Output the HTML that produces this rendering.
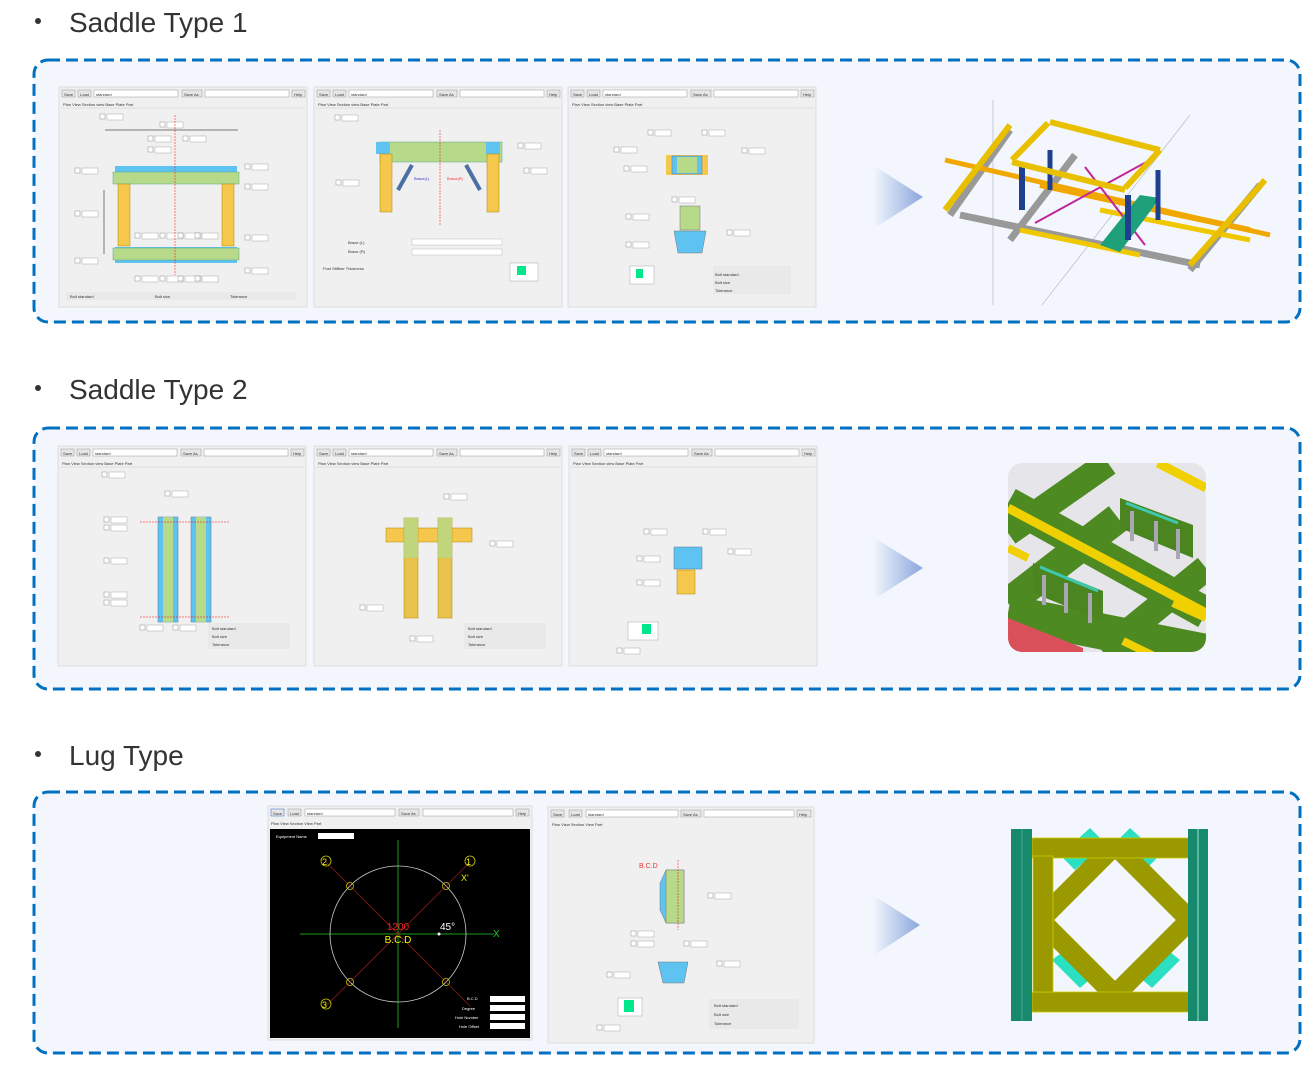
<!DOCTYPE html>
<html><head><meta charset="utf-8"><style>
html,body{margin:0;padding:0;background:#fff;}
body{width:1315px;height:1067px;overflow:hidden;font-family:"Liberation Sans",sans-serif;}
svg text{font-family:"Liberation Sans",sans-serif;}
</style></head><body>
<svg width="1315" height="1067" viewBox="0 0 1315 1067" xmlns="http://www.w3.org/2000/svg">
<defs>
<linearGradient id="ar" x1="0" x2="1" y1="0" y2="0">
<stop offset="0" stop-color="#f3f7fd"/><stop offset="1" stop-color="#8aa6dc"/></linearGradient>
<g id="tb">
<rect x="0" y="0" width="248" height="220" fill="#f0f0f0" stroke="#dcdcdc"/>
<rect x="3" y="3" width="13" height="7" fill="#e6e6e6" stroke="#999" stroke-width=".5"/>
<rect x="19" y="3" width="13" height="7" fill="#e6e6e6" stroke="#999" stroke-width=".5"/>
<rect x="35" y="3" width="84" height="7" fill="#fff" stroke="#999" stroke-width=".5"/>
<rect x="123" y="3" width="20" height="7" fill="#e6e6e6" stroke="#999" stroke-width=".5"/>
<rect x="146" y="3" width="84" height="7" fill="#fff" stroke="#999" stroke-width=".5"/>
<rect x="233" y="3" width="13" height="7" fill="#e6e6e6" stroke="#999" stroke-width=".5"/>
<text x="5" y="9" font-size="4" fill="#333">Save</text><text x="21" y="9" font-size="4" fill="#333">Load</text>
<text x="37" y="9" font-size="4" fill="#333">standard</text><text x="125" y="9" font-size="4" fill="#333">Save As</text>
<text x="235" y="9" font-size="4" fill="#333">Help</text>
<line x1="2" y1="21" x2="246" y2="21" stroke="#ccc" stroke-width=".5"/>
<text x="4" y="19" font-size="4" fill="#333">Plan View  Section view  Base Plate  Part</text>
</g>
<g id="fld"><rect x="0" y="0" width="5" height="5" fill="#fff" stroke="#777" stroke-width=".4"/><rect x="7" y="0" width="16" height="6" fill="#fff" stroke="#999" stroke-width=".4"/></g>
</defs>

<!-- Titles -->
<g fill="#333" font-size="28">
<circle cx="38" cy="21" r="3"/><text x="69" y="32">Saddle Type 1</text>
<circle cx="38" cy="388" r="3"/><text x="69" y="399">Saddle Type 2</text>
<circle cx="38" cy="754" r="3"/><text x="69" y="765">Lug Type</text>
</g>

<!-- boxes -->
<g fill="#f3f7fd" stroke="#0070c0" stroke-width="3" stroke-dasharray="12,6">
<rect x="34" y="60" width="1266" height="262" rx="14"/>
<rect x="34" y="428" width="1266" height="261" rx="14"/>
<rect x="34" y="792" width="1266" height="261" rx="14"/>
</g>

<!-- arrows -->
<polygon points="873,165 923,197 873,229" fill="url(#ar)"/>
<polygon points="873,537 923,568 873,600" fill="url(#ar)"/>
<polygon points="873,895 920,925 873,956" fill="url(#ar)"/>

<!-- Section 1 panels -->
<use href="#tb" x="59" y="87"/>
<use href="#tb" x="314" y="87"/>
<use href="#tb" x="568" y="87"/>
<g>
<!-- panel1 drawing -->
<use href="#fld" x="100" y="114"/><use href="#fld" x="160" y="122"/><use href="#fld" x="148" y="136"/><use href="#fld" x="183" y="136"/><use href="#fld" x="148" y="147"/>
<use href="#fld" x="245" y="164"/><use href="#fld" x="245" y="184"/><use href="#fld" x="245" y="235"/><use href="#fld" x="245" y="268"/>
<use href="#fld" x="75" y="168"/><use href="#fld" x="75" y="211"/><use href="#fld" x="75" y="258"/>
<use href="#fld" x="135" y="233"/><use href="#fld" x="160" y="233"/><use href="#fld" x="178" y="233"/><use href="#fld" x="195" y="233"/>
<use href="#fld" x="135" y="276"/><use href="#fld" x="160" y="276"/><use href="#fld" x="178" y="276"/><use href="#fld" x="195" y="276"/>
<rect x="115" y="166" width="122" height="14" fill="#5ec3f0"/>
<rect x="113" y="172" width="126" height="12" fill="#b6d98a" stroke="#5a8" stroke-width=".5"/>
<rect x="118" y="184" width="12" height="62" fill="#f5c74c" stroke="#a80" stroke-width=".5"/>
<rect x="222" y="184" width="12" height="62" fill="#f5c74c" stroke="#a80" stroke-width=".5"/>
<rect x="115" y="247" width="122" height="16" fill="#5ec3f0"/>
<rect x="113" y="248" width="126" height="12" fill="#b6d98a" stroke="#5a8" stroke-width=".5"/>
<line x1="175" y1="115" x2="175" y2="275" stroke="red" stroke-width=".5" stroke-dasharray="2,1"/>
<line x1="104" y1="190" x2="104" y2="254" stroke="#000" stroke-width=".5"/>
<line x1="105" y1="130" x2="238" y2="130" stroke="#000" stroke-width=".5"/>
<rect x="66" y="292" width="230" height="8" fill="#e9e9e9"/>
<text x="70" y="298" font-size="4" fill="#333">Bolt standard</text><text x="155" y="298" font-size="4" fill="#333">Bolt size</text><text x="230" y="298" font-size="4" fill="#333">Tolerance</text>
<!-- panel2 -->
<use href="#fld" x="335" y="115"/><use href="#fld" x="518" y="143"/><use href="#fld" x="524" y="168"/><use href="#fld" x="336" y="180"/>
<rect x="380" y="142" width="122" height="20" fill="#b6d98a" stroke="#5a8" stroke-width=".5"/>
<rect x="376" y="142" width="14" height="12" fill="#5ec3f0"/>
<rect x="486" y="142" width="14" height="12" fill="#5ec3f0"/>
<rect x="380" y="154" width="12" height="58" fill="#f5c74c" stroke="#a80" stroke-width=".5"/>
<rect x="487" y="154" width="12" height="58" fill="#f5c74c" stroke="#a80" stroke-width=".5"/>
<line x1="398" y1="190" x2="412" y2="165" stroke="#4a6fa5" stroke-width="4"/>
<line x1="480" y1="190" x2="466" y2="165" stroke="#4a6fa5" stroke-width="4"/>
<text x="414" y="180" font-size="4" fill="#33c">Brace(L)</text><text x="447" y="180" font-size="4" fill="#e33">Brace(R)</text>
<line x1="440" y1="130" x2="440" y2="225" stroke="red" stroke-width=".5" stroke-dasharray="2,1"/>
<text x="348" y="244" font-size="4" fill="#333">Brace (L)</text><text x="348" y="253" font-size="4" fill="#333">Brace (R)</text><text x="323" y="270" font-size="4" fill="#333">Post Stiffner Thickness</text>
<rect x="412" y="239" width="90" height="6" fill="#fff" stroke="#aaa" stroke-width=".4"/>
<rect x="412" y="249" width="90" height="6" fill="#fff" stroke="#aaa" stroke-width=".4"/>
<rect x="510" y="263" width="28" height="18" fill="#fff" stroke="#aaa" stroke-width=".5"/><rect x="517" y="266" width="9" height="9" fill="#00e68a"/>
<!-- panel3 -->
<use href="#fld" x="648" y="130"/><use href="#fld" x="702" y="130"/><use href="#fld" x="614" y="147"/><use href="#fld" x="742" y="148"/><use href="#fld" x="624" y="166"/><use href="#fld" x="672" y="197"/><use href="#fld" x="626" y="214"/><use href="#fld" x="727" y="230"/><use href="#fld" x="626" y="242"/>
<rect x="666" y="155" width="42" height="20" fill="#f5c74c"/>
<rect x="672" y="156" width="30" height="18" fill="#5ec3f0" stroke="#579" stroke-width=".5"/>
<rect x="677" y="157" width="20" height="16" fill="#b6d98a"/>
<rect x="680" y="206" width="20" height="24" fill="#b6d98a" stroke="#777" stroke-width=".5"/>
<polygon points="674,231 706,231 702,253 678,253" fill="#5ec3f0" stroke="#777" stroke-width=".5"/>
<rect x="713" y="266" width="78" height="28" fill="#e9e9e9"/>
<text x="715" y="276" font-size="4" fill="#333">Bolt standard</text><text x="715" y="284" font-size="4" fill="#333">Bolt size</text><text x="715" y="292" font-size="4" fill="#333">Tolerance</text>
<rect x="630" y="266" width="24" height="18" fill="#fff" stroke="#aaa" stroke-width=".5"/><rect x="636" y="269" width="7" height="9" fill="#00e68a"/>
</g>

<!-- 3D model section 1 -->
<g>
<line x1="993" y1="100" x2="993" y2="305" stroke="#aab" stroke-width=".6"/>
<line x1="1042" y1="305" x2="1190" y2="115" stroke="#aab" stroke-width=".6"/>
<g stroke-linecap="butt">
<line x1="950" y1="215" x2="1010" y2="130" stroke="#999" stroke-width="7"/>
<line x1="1010" y1="240" x2="1075" y2="155" stroke="#999" stroke-width="7"/>
<line x1="1190" y1="270" x2="1260" y2="185" stroke="#999" stroke-width="7"/>
<line x1="960" y1="215" x2="1200" y2="265" stroke="#999" stroke-width="7"/>
<line x1="1040" y1="185" x2="1250" y2="230" stroke="#f0a800" stroke-width="6"/>
<line x1="945" y1="160" x2="1270" y2="235" stroke="#f0a800" stroke-width="5"/>
<line x1="1020" y1="230" x2="1140" y2="255" stroke="#f0c800" stroke-width="5"/>
<line x1="1100" y1="210" x2="1250" y2="240" stroke="#f0c800" stroke-width="5"/>
<line x1="945" y1="210" x2="1010" y2="125" stroke="#e8c000" stroke-width="6"/>
<line x1="1190" y1="265" x2="1265" y2="180" stroke="#e8c000" stroke-width="6"/>
<line x1="1035" y1="223" x2="1150" y2="160" stroke="#c0259a" stroke-width="2"/>
<line x1="1085" y1="167" x2="1145" y2="245" stroke="#c0259a" stroke-width="2"/>
<polygon points="1100,245 1140,195 1160,198 1120,252" fill="#1ea07a"/>
<line x1="1022" y1="165" x2="1022" y2="210" stroke="#1f3f8f" stroke-width="6"/>
<line x1="1128" y1="195" x2="1128" y2="240" stroke="#1f3f8f" stroke-width="6"/>
<line x1="1158" y1="170" x2="1158" y2="220" stroke="#1f3f8f" stroke-width="5"/>
<line x1="1050" y1="150" x2="1050" y2="190" stroke="#1f3f8f" stroke-width="5"/>
<line x1="1012" y1="160" x2="1048" y2="123" stroke="#e8c000" stroke-width="6"/>
<line x1="1125" y1="188" x2="1160" y2="150" stroke="#e8c000" stroke-width="6"/>
<line x1="1050" y1="122" x2="1160" y2="150" stroke="#e8c000" stroke-width="6"/>
<line x1="1012" y1="162" x2="1125" y2="190" stroke="#e8c000" stroke-width="6"/>
</g>
</g>

<!-- Section 2 panels -->
<use href="#tb" x="58" y="446"/>
<use href="#tb" x="314" y="446"/>
<use href="#tb" x="569" y="446"/>
<g>
<use href="#fld" x="102" y="472"/><use href="#fld" x="165" y="491"/><use href="#fld" x="104" y="517"/><use href="#fld" x="104" y="525"/><use href="#fld" x="104" y="558"/><use href="#fld" x="104" y="592"/><use href="#fld" x="104" y="600"/><use href="#fld" x="140" y="625"/><use href="#fld" x="173" y="625"/>
<rect x="158" y="517" width="20" height="105" fill="#5ec3f0" stroke="#579" stroke-width=".5"/>
<rect x="163" y="517" width="10" height="105" fill="#b6d98a"/>
<rect x="191" y="517" width="20" height="105" fill="#5ec3f0" stroke="#579" stroke-width=".5"/>
<rect x="196" y="517" width="10" height="105" fill="#b6d98a"/>
<line x1="140" y1="522" x2="230" y2="522" stroke="red" stroke-width=".5" stroke-dasharray="2,1"/>
<line x1="140" y1="617" x2="230" y2="617" stroke="red" stroke-width=".5" stroke-dasharray="2,1"/>
<rect x="208" y="623" width="82" height="26" fill="#e9e9e9"/>
<text x="212" y="630" font-size="4" fill="#333">Bolt standard</text><text x="212" y="638" font-size="4" fill="#333">Bolt size</text><text x="212" y="646" font-size="4" fill="#333">Tolerance</text>
<use href="#fld" x="444" y="494"/><use href="#fld" x="490" y="541"/><use href="#fld" x="360" y="605"/><use href="#fld" x="410" y="636"/>
<rect x="386" y="528" width="86" height="14" fill="#f5c74c" stroke="#a80" stroke-width=".5"/>
<rect x="404" y="518" width="14" height="100" fill="#e8c24c" stroke="#a80" stroke-width=".5"/>
<rect x="438" y="518" width="14" height="100" fill="#e8c24c" stroke="#a80" stroke-width=".5"/>
<rect x="404" y="518" width="14" height="40" fill="#b6d98a" opacity=".8"/>
<rect x="438" y="518" width="14" height="40" fill="#b6d98a" opacity=".8"/>
<rect x="464" y="623" width="82" height="26" fill="#e9e9e9"/>
<text x="468" y="630" font-size="4" fill="#333">Bolt standard</text><text x="468" y="638" font-size="4" fill="#333">Bolt size</text><text x="468" y="646" font-size="4" fill="#333">Tolerance</text>
<use href="#fld" x="644" y="529"/><use href="#fld" x="703" y="529"/><use href="#fld" x="637" y="556"/><use href="#fld" x="728" y="549"/><use href="#fld" x="637" y="580"/><use href="#fld" x="617" y="648"/>
<rect x="674" y="547" width="28" height="22" fill="#5ec3f0" stroke="#579" stroke-width=".5"/>
<rect x="677" y="570" width="18" height="24" fill="#f5c74c" stroke="#a80" stroke-width=".5"/>
<rect x="628" y="622" width="30" height="18" fill="#fff" stroke="#aaa" stroke-width=".5"/><rect x="642" y="624" width="9" height="10" fill="#00e68a"/>
</g>

<!-- 3D section 2 -->
<svg x="1008" y="463" width="198" height="189">
<clipPath id="rc"><rect width="198" height="189" rx="14"/></clipPath>
<g clip-path="url(#rc)">
<rect width="198" height="189" fill="#e6e6ea"/>
<g stroke="#4e8a22" stroke-linecap="butt">
<line x1="0" y1="40" x2="198" y2="150" stroke-width="32"/>
<line x1="0" y1="150" x2="198" y2="189" stroke-width="36"/>
<line x1="0" y1="70" x2="100" y2="0" stroke-width="26"/>
<line x1="0" y1="140" x2="110" y2="55" stroke-width="30"/>
<line x1="95" y1="189" x2="198" y2="105" stroke-width="26"/>
<line x1="130" y1="0" x2="198" y2="40" stroke-width="6" stroke="#e6e6ea"/>
</g>
<polygon points="112,35 185,62 185,95 112,65" fill="#4a8520"/>
<polygon points="25,100 95,128 95,158 25,130" fill="#4a8520"/>
<line x1="118" y1="40" x2="170" y2="60" stroke="#3cc9b0" stroke-width="3"/>
<line x1="32" y1="104" x2="90" y2="128" stroke="#3cc9b0" stroke-width="3"/>
<g fill="#aaa6b6"><rect x="122" y="48" width="4" height="30"/><rect x="146" y="58" width="4" height="30"/><rect x="168" y="66" width="4" height="30"/>
<rect x="34" y="112" width="4" height="30"/><rect x="56" y="120" width="4" height="30"/><rect x="80" y="130" width="4" height="30"/></g>
<line x1="0" y1="45" x2="198" y2="150" stroke="#f0d000" stroke-width="9"/>
<line x1="150" y1="0" x2="198" y2="25" stroke="#f0d000" stroke-width="9"/>
<line x1="0" y1="85" x2="20" y2="95" stroke="#f0d000" stroke-width="8"/>
<line x1="115" y1="178" x2="150" y2="195" stroke="#f0d000" stroke-width="8"/>
<line x1="165" y1="140" x2="198" y2="155" stroke="#f0d000" stroke-width="8"/>
<polygon points="0,155 75,185 75,189 0,189" fill="#d9505a"/>
</g>
</svg>

<!-- Section 3 panels -->
<g>
<rect x="268" y="806" width="264" height="234" fill="#f0f0f0" stroke="#dcdcdc"/>
<rect x="271" y="809" width="13" height="7" fill="#e6e6e6" stroke="#36c" stroke-width=".5"/>
<rect x="288" y="809" width="13" height="7" fill="#e6e6e6" stroke="#999" stroke-width=".5"/>
<rect x="305" y="809" width="90" height="7" fill="#fff" stroke="#999" stroke-width=".5"/>
<rect x="399" y="809" width="20" height="7" fill="#e6e6e6" stroke="#999" stroke-width=".5"/>
<rect x="423" y="809" width="90" height="7" fill="#fff" stroke="#999" stroke-width=".5"/>
<rect x="516" y="809" width="13" height="7" fill="#e6e6e6" stroke="#999" stroke-width=".5"/>
<text x="273" y="815" font-size="4" fill="#333">Save</text><text x="290" y="815" font-size="4" fill="#333">Load</text><text x="307" y="815" font-size="4" fill="#333">standard</text><text x="401" y="815" font-size="4" fill="#333">Save As</text><text x="518" y="815" font-size="4" fill="#333">Help</text>
<text x="271" y="825" font-size="4" fill="#333">Plan View  Section View  Part</text>
<rect x="270" y="829" width="260" height="209" fill="#000"/>
<text x="276" y="838" font-size="4" fill="#fff">Equipment Name</text><rect x="318" y="833" width="36" height="6" fill="#fff"/>
<line x1="300" y1="934" x2="494" y2="934" stroke="#1a9a1a" stroke-width="1"/>
<line x1="398" y1="840" x2="398" y2="1028" stroke="#1a9a1a" stroke-width="1"/>
<circle cx="398" cy="934" r="68" fill="none" stroke="#ccc" stroke-width=".8"/>
<line x1="326" y1="862" x2="470" y2="1006" stroke="#8a1a1a" stroke-width=".8"/>
<line x1="470" y1="862" x2="326" y2="1006" stroke="#8a1a1a" stroke-width=".8"/>
<g fill="none" stroke="#cc0" stroke-width=".8"><circle cx="350" cy="886" r="3.5"/><circle cx="446" cy="886" r="3.5"/><circle cx="350" cy="982" r="3.5"/><circle cx="446" cy="982" r="3.5"/>
<circle cx="326" cy="861" r="5"/><circle cx="470" cy="861" r="5"/><circle cx="326" cy="1004" r="5"/></g>
<text x="322" y="865" font-size="9" fill="#ee0">2</text><text x="466" y="865" font-size="9" fill="#ee0">1</text><text x="322" y="1008" font-size="9" fill="#ee0">3</text>
<text x="461" y="881" font-size="9" fill="#ee0">X'</text>
<text x="493" y="937" font-size="10" fill="#2c2">X</text>
<text x="398" y="930" font-size="10" fill="#e22" text-anchor="middle">1200</text>
<text x="398" y="943" font-size="10" fill="#ee0" text-anchor="middle">B.C.D</text>
<text x="440" y="930" font-size="10" fill="#fff">45°</text>
<circle cx="439" cy="934" r="1.5" fill="#fff"/>
<g font-size="4" fill="#fff"><text x="467" y="1000">B.C.D</text><text x="462" y="1010">Degree</text><text x="455" y="1019">Hole Number</text><text x="459" y="1028">Hole Offset</text></g>
<g fill="#fff"><rect x="490" y="996" width="35" height="6"/><rect x="490" y="1005" width="35" height="6"/><rect x="490" y="1014" width="35" height="6"/><rect x="490" y="1023" width="35" height="6"/></g>
</g>
<g>
<rect x="548" y="807" width="266" height="236" fill="#f0f0f0" stroke="#dcdcdc"/>
<rect x="551" y="810" width="13" height="7" fill="#e6e6e6" stroke="#999" stroke-width=".5"/>
<rect x="569" y="810" width="13" height="7" fill="#e6e6e6" stroke="#999" stroke-width=".5"/>
<rect x="586" y="810" width="92" height="7" fill="#fff" stroke="#999" stroke-width=".5"/>
<rect x="681" y="810" width="20" height="7" fill="#e6e6e6" stroke="#999" stroke-width=".5"/>
<rect x="704" y="810" width="90" height="7" fill="#fff" stroke="#999" stroke-width=".5"/>
<rect x="797" y="810" width="14" height="7" fill="#e6e6e6" stroke="#999" stroke-width=".5"/>
<text x="553" y="816" font-size="4" fill="#333">Save</text><text x="571" y="816" font-size="4" fill="#333">Load</text><text x="588" y="816" font-size="4" fill="#333">standard</text><text x="683" y="816" font-size="4" fill="#333">Save As</text><text x="799" y="816" font-size="4" fill="#333">Help</text>
<text x="552" y="826" font-size="4" fill="#333">Plan View  Section View  Part</text>
<use href="#fld" x="708" y="893"/><use href="#fld" x="631" y="931"/><use href="#fld" x="631" y="941"/><use href="#fld" x="684" y="941"/><use href="#fld" x="717" y="961"/><use href="#fld" x="607" y="972"/><use href="#fld" x="597" y="1025"/>
<text x="639" y="868" font-size="7" fill="#e33">B.C.D</text>
<polygon points="666,870 684,870 684,923 666,923 660,910 660,883" fill="#5ec3f0" stroke="#777" stroke-width=".5"/>
<rect x="666" y="870" width="18" height="53" fill="#b6d98a" stroke="#777" stroke-width=".5"/>
<line x1="678" y1="860" x2="678" y2="930" stroke="red" stroke-width=".5" stroke-dasharray="2,1"/>
<polygon points="658,962 688,962 684,983 663,983" fill="#5ec3f0" stroke="#777" stroke-width=".5"/>
<rect x="709" y="999" width="90" height="30" fill="#e9e9e9"/>
<text x="714" y="1007" font-size="4" fill="#333">Bolt standard</text><text x="714" y="1016" font-size="4" fill="#333">Bolt size</text><text x="714" y="1025" font-size="4" fill="#333">Tolerance</text>
<rect x="618" y="998" width="24" height="18" fill="#fff" stroke="#aaa" stroke-width=".5"/><rect x="624" y="1000" width="10" height="12" fill="#00e68a"/>
</g>

<!-- 3D section 3 -->
<g>
<polygon points="1060,855 1090,828 1105,843 1075,870" fill="#2ae0c0"/>
<polygon points="1160,855 1130,828 1115,843 1145,870" fill="#2ae0c0"/>
<polygon points="1052,960 1080,988 1095,975 1068,948" fill="#2ae0c0"/>
<polygon points="1180,960 1152,988 1137,975 1165,948" fill="#2ae0c0"/>
<g stroke="#9a9a00" stroke-width="20" stroke-linecap="butt">
<line x1="1040" y1="920" x2="1115" y2="845"/>
<line x1="1115" y1="845" x2="1190" y2="920"/>
<line x1="1040" y1="920" x2="1115" y2="995"/>
<line x1="1115" y1="995" x2="1190" y2="920"/>
</g>
<rect x="1032" y="838" width="162" height="20" fill="#9a9a00" stroke="#cc0" stroke-width=".8"/>
<rect x="1032" y="992" width="162" height="20" fill="#9a9a00" stroke="#cc0" stroke-width=".8"/>
<rect x="1033" y="856" width="20" height="136" fill="#9a9a00" stroke="#cc0" stroke-width=".8"/>
<rect x="1011" y="829" width="21" height="192" fill="#178a6e"/>
<rect x="1188" y="829" width="20" height="192" fill="#178a6e"/>
<line x1="1022" y1="829" x2="1022" y2="1021" stroke="#4a8" stroke-width="1"/>
<line x1="1198" y1="829" x2="1198" y2="1021" stroke="#bfe" stroke-width=".8"/>
</g>
</svg>
</body></html>
